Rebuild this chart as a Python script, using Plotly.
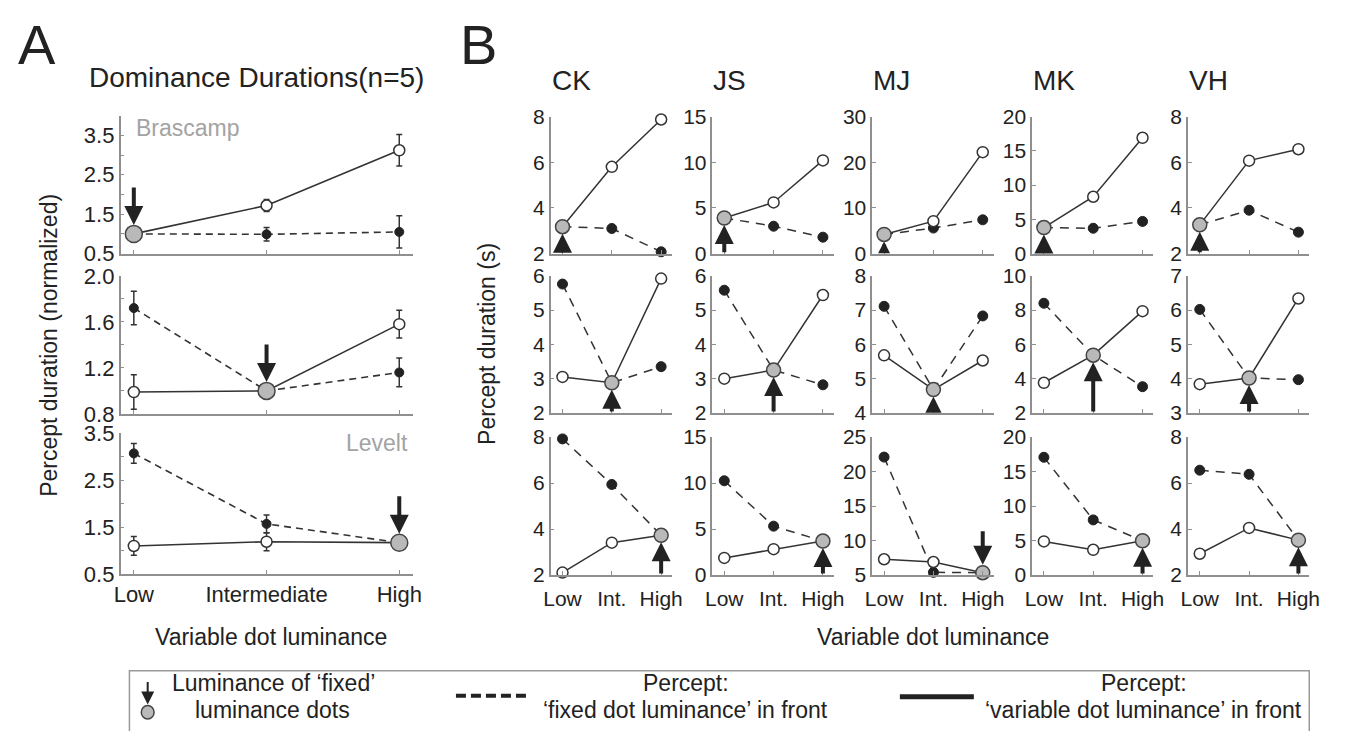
import plotly.graph_objects as go

W, H = 1347, 739          # browser window
OFF = 8                   # default page margin of the html body
FW, FH = W - 2 * OFF, H - 2 * OFF
FONT = "Arial, 'Liberation Sans', sans-serif"
INK = "#222222"
LINE_C = "#333333"
AXIS_C = "#8f8f8f"
GRAY_FILL = "#b9b9b9"
NAME_GRAY = "#a3a3a3"

# ---------------- data ----------------
COND_A = ["Low", "Intermediate", "High"]
COND_B = ["Low", "Int.", "High"]
COND_POS = [0, 1, 2]

# Panel A: normalized dominance durations (n=5)
A_NAMES = ["Brascamp", "", "Levelt"]
A_FIXED_IDX = [0, 1, 2]
A_VAR_MEAN = [[1.00, 1.72, 3.12], [0.99, 1.00, 1.58], [1.10, 1.19, 1.17]]
A_VAR_ERR = [[0.00, 0.15, 0.40], [0.15, 0.00, 0.12], [0.20, 0.19, 0.00]]
A_FIX_MEAN = [[1.00, 0.99, 1.05], [1.72, 1.00, 1.16], [3.07, 1.57, 1.17]]
A_FIX_ERR = [[0.00, 0.17, 0.41], [0.145, 0.00, 0.125], [0.21, 0.19, 0.12]]
A_YRANGE = [[0.5, 4.0], [0.8, 2.0], [0.5, 3.5]]
A_YTICKVALS = [[0.5, 1.0, 1.5, 2.0, 2.5, 3.0, 3.5],
               [0.8, 1.0, 1.2, 1.4, 1.6, 1.8, 2.0],
               [0.5, 1.0, 1.5, 2.0, 2.5, 3.0, 3.5]]
A_YTICKTEXT = [["0.5", "", "1.5", "", "2.5", "", "3.5"],
               ["0.8", "", "1.2", "", "1.6", "", "2.0"],
               ["0.5", "", "1.5", "", "2.5", "", "3.5"]]

# Panel B: individual observers (seconds)
SUBJECTS = ["CK", "JS", "MJ", "MK", "VH"]
B_FIXED_IDX = [0, 1, 2]
B_VAR = [
    [[3.18, 5.80, 7.87], [3.9, 5.6, 10.2], [4.2, 7.1, 22.2], [3.8, 8.3, 16.9], [3.26, 6.07, 6.57]],
    [[3.05, 2.88, 5.92], [3.0, 3.25, 5.44], [5.68, 4.68, 5.53], [3.76, 5.37, 7.94], [3.84, 4.02, 6.34]],
    [[2.11, 3.41, 3.73], [1.87, 2.82, 3.70], [7.3, 6.9, 5.35], [4.88, 3.67, 4.98], [2.93, 4.05, 3.52]],
]
B_FIX = [
    [[3.18, 3.10, 2.08], [3.9, 3.0, 1.8], [4.2, 5.6, 7.4], [3.8, 3.7, 4.7], [3.26, 3.9, 2.94]],
    [[5.76, 2.88, 3.35], [5.58, 3.25, 2.82], [7.11, 4.68, 6.83], [8.4, 5.37, 3.53], [6.02, 4.02, 3.97]],
    [[7.92, 5.94, 3.73], [10.25, 5.32, 3.70], [22.1, 5.4, 5.35], [17.07, 8.0, 4.98], [6.56, 6.38, 3.52]],
]
B_YRANGE = [
    [[2, 8], [0, 15], [0, 30], [0, 20], [2, 8]],
    [[2, 6], [2, 6], [4, 8], [2, 10], [3, 7]],
    [[2, 8], [0, 15], [5, 25], [0, 20], [2, 8]],
]
B_YTICKS = [
    [[2, 4, 6, 8], [0, 5, 10, 15], [0, 10, 20, 30], [0, 5, 10, 15, 20], [2, 4, 6, 8]],
    [[2, 3, 4, 5, 6], [2, 3, 4, 5, 6], [4, 5, 6, 7, 8], [2, 4, 6, 8, 10], [3, 4, 5, 6, 7]],
    [[2, 4, 6, 8], [0, 5, 10, 15], [5, 10, 15, 20, 25], [0, 5, 10, 15, 20], [2, 4, 6, 8]],
]
B_ARROW_DOWN = [[False] * 5, [False] * 5, [False, False, True, False, False]]

# ---------------- layout geometry (window pixels) ----------------
A_X_PX = (115, 411)
A_ROWS_PX = [(107, 250), (273, 416), (436, 582)]
B_COLS_PX = [551, 715, 877, 1039, 1197]
B_COL_W = 123
B_ROWS_PX = [(108, 250), (273, 415), (440, 583)]


def fx(px):
    return (px - OFF) / FW


def fy(py):
    return 1 - (py - OFF) / FH


fig = go.Figure()
layout = dict(
    width=FW, height=FH, autosize=False,
    margin=dict(l=0, r=0, t=0, b=0),
    paper_bgcolor="white", plot_bgcolor="white",
    showlegend=False,
    font=dict(family=FONT, color=INK, size=20),
)
annotations = []
shapes = []

axis_common = dict(
    showline=True, linecolor=AXIS_C, linewidth=1.5, mirror=False,
    showgrid=False, zeroline=False, ticks="inside", ticklen=4,
    tickcolor=AXIS_C, tickwidth=1.2, fixedrange=True,
)


def add_axes(k, xdom, ydom, xrange, yrange, ytickvals, yticktext, xticktext,
             xlabels, tfont, xstand=0):
    sfx = "" if k == 1 else str(k)
    layout["xaxis" + sfx] = dict(axis_common, domain=xdom, range=xrange, anchor="y" + sfx,
                                 tickvals=COND_POS, ticktext=xticktext, showticklabels=xlabels,
                                 tickfont=dict(size=tfont, color=INK), ticklabelstandoff=xstand)
    layout["yaxis" + sfx] = dict(axis_common, domain=ydom, range=yrange, anchor="x" + sfx,
                                 tickvals=ytickvals, ticktext=yticktext,
                                 tickfont=dict(size=tfont, color=INK))
    return "x" + sfx, "y" + sfx


def add_series(xa, ya, var, fix, fixed_idx, var_err=None, fix_err=None,
               dash="8px,8px", lw=1.5, s_open=11, s_fill=10, s_gray=14):
    # dashed: 'fixed dot luminance' in front (filled markers)
    fig.add_trace(go.Scatter(x=COND_POS, y=fix, xaxis=xa, yaxis=ya, mode="lines",
                             line=dict(color=LINE_C, width=lw, dash=dash),
                             cliponaxis=False, hoverinfo="skip"))
    # solid: 'variable dot luminance' in front (open markers)
    fig.add_trace(go.Scatter(x=COND_POS, y=var, xaxis=xa, yaxis=ya, mode="lines",
                             line=dict(color=LINE_C, width=lw),
                             cliponaxis=False, hoverinfo="skip"))
    fig.add_trace(go.Scatter(
        x=COND_POS, y=fix, xaxis=xa, yaxis=ya, mode="markers", cliponaxis=False,
        marker=dict(size=s_fill, color=INK, line=dict(color=INK, width=1)),
        error_y=(dict(type="data", array=fix_err, color=LINE_C, thickness=1.5, width=3)
                 if fix_err is not None else None),
        hoverinfo="skip"))
    fig.add_trace(go.Scatter(
        x=COND_POS, y=var, xaxis=xa, yaxis=ya, mode="markers", cliponaxis=False,
        marker=dict(size=s_open, color="white", line=dict(color=LINE_C, width=1.5)),
        error_y=(dict(type="data", array=var_err, color=LINE_C, thickness=1.5, width=3)
                 if var_err is not None else None),
        hoverinfo="skip"))
    fig.add_trace(go.Scatter(
        x=[COND_POS[fixed_idx]], y=[var[fixed_idx]], xaxis=xa, yaxis=ya, mode="markers",
        cliponaxis=False,
        marker=dict(size=s_gray, color=GRAY_FILL, line=dict(color="#444444", width=1.5)),
        hoverinfo="skip"))


ARROW = dict(showarrow=True, arrowhead=2, arrowwidth=4, arrowcolor=INK, text="")

# ---------------- Panel A ----------------
k = 0
for r in range(3):
    k += 1
    y0, y1 = A_ROWS_PX[r]
    xa, ya = add_axes(k, [fx(A_X_PX[0]), fx(A_X_PX[1])], [fy(y1), fy(y0)],
                      [-0.1, 2.1], A_YRANGE[r], A_YTICKVALS[r], A_YTICKTEXT[r],
                      COND_A, r == 2, 22)
    add_series(xa, ya, A_VAR_MEAN[r], A_FIX_MEAN[r], A_FIXED_IDX[r],
               A_VAR_ERR[r], A_FIX_ERR[r], dash="7px,5px", lw=1.6,
               s_open=11, s_fill=9, s_gray=17)
    fi = A_FIXED_IDX[r]
    annotations.append(dict(ARROW, x=COND_POS[fi], y=A_VAR_MEAN[r][fi], xref=xa, yref=ya,
                            ax=0, ay=-48, arrowsize=0.95, standoff=9))
    if A_NAMES[r]:
        left = r == 0
        annotations.append(dict(
            text=A_NAMES[r], xref=f"{xa} domain", yref=f"{ya} domain",
            x=0.045 if left else 0.99, y=0.91 if left else 0.93,
            xanchor="left" if left else "right", yanchor="middle", showarrow=False,
            font=dict(size=23, color=NAME_GRAY)))

# ---------------- Panel B ----------------
for r in range(3):
    y0, y1 = B_ROWS_PX[r]
    for c in range(5):
        k += 1
        x0 = B_COLS_PX[c]
        yr = B_YRANGE[r][c]
        xa, ya = add_axes(k, [fx(x0), fx(x0 + B_COL_W)], [fy(y1), fy(y0)],
                          [-0.24, 2.22], yr, B_YTICKS[r][c],
                          [str(v) for v in B_YTICKS[r][c]], COND_B, r == 2, 21, xstand=4)
        var, fix = B_VAR[r][c], B_FIX[r][c]
        fi = B_FIXED_IDX[r]
        add_series(xa, ya, var, fix, fi, dash="9px,7px", lw=1.5,
                   s_open=11, s_fill=10, s_gray=14)
        if B_ARROW_DOWN[r][c]:
            annotations.append(dict(ARROW, x=COND_POS[fi], y=var[fi], xref=xa, yref=ya,
                                    ax=0, ay=-43, arrowsize=0.95, standoff=8))
        else:
            h_px = y1 - y0
            avail = (var[fi] - yr[0]) / (yr[1] - yr[0]) * h_px - 8
            size = max(0.35, min(0.95, avail / 20.0))
            annotations.append(dict(ARROW, x=COND_POS[fi], y=var[fi], xref=xa, yref=ya,
                                    ax=COND_POS[fi], ay=yr[0], axref=xa, ayref=ya,
                                    arrowsize=size, standoff=7))
        if r == 0:
            annotations.append(dict(
                text=SUBJECTS[c], xref="paper", yref="paper", x=fx(x0 - 1), y=fy(71),
                xanchor="left", yanchor="middle", showarrow=False,
                font=dict(size=28, color=INK)))


# ---------------- text ----------------
def txt(s, x, y, size, xanchor="center", angle=0, color=INK):
    annotations.append(dict(text=s, x=fx(x), y=fy(y), xref="paper", yref="paper",
                            xanchor=xanchor, yanchor="middle", showarrow=False,
                            textangle=angle, font=dict(size=size, color=color)))


txt("A", 30, 33, 56)
txt("B", 478, 33, 56)
txt("Dominance Durations(n=5)", 253, 68, 28)
txt("Percept duration (normalized)", 43, 345, 23, angle=-90)
txt("Percept duration (s)", 487, 344, 23, angle=-90)
txt("Variable dot luminance", 268, 647, 23)
txt("Variable dot luminance", 939, 647, 23)

# ---------------- legend box ----------------
shapes.append(dict(type="rect", xref="paper", yref="paper", x0=fx(124), x1=fx(1320),
                   y0=fy(760), y1=fy(682), line=dict(color="#9a9a9a", width=1.5),
                   fillcolor="rgba(0,0,0,0)", layer="above"))
shapes.append(dict(type="circle", xref="paper", yref="paper", x0=fx(136), x1=fx(149),
                   y0=fy(732), y1=fy(718), fillcolor=GRAY_FILL,
                   line=dict(color="#444444", width=1.5), layer="above"))
annotations.append(dict(x=fx(142.5), y=fy(717), xref="paper", yref="paper", ax=0, ay=-24,
                        showarrow=True, arrowhead=2, arrowwidth=2, arrowsize=1.3,
                        arrowcolor=INK, text=""))
shapes.append(dict(type="line", xref="paper", yref="paper", x0=fx(455), x1=fx(529),
                   y0=fy(708), y1=fy(708), line=dict(color=INK, width=4, dash="10px,5px")))
shapes.append(dict(type="line", xref="paper", yref="paper", x0=fx(905), x1=fx(980),
                   y0=fy(709), y1=fy(709), line=dict(color=INK, width=5)))
txt("Luminance of \u2018fixed\u2019", 165, 695, 23, xanchor="left")
txt("luminance dots", 188, 723, 23, xanchor="left")
txt("Percept:", 688, 695, 23)
txt("\u2018fixed dot luminance\u2019 in front", 688, 723, 23)
txt("Percept:", 1152, 695, 23)
txt("\u2018variable dot luminance\u2019 in front", 1152, 723, 23)

layout["annotations"] = annotations
layout["shapes"] = shapes
fig.update_layout(**layout)

fig.write_html("out.html", config={"displayModeBar": False})
